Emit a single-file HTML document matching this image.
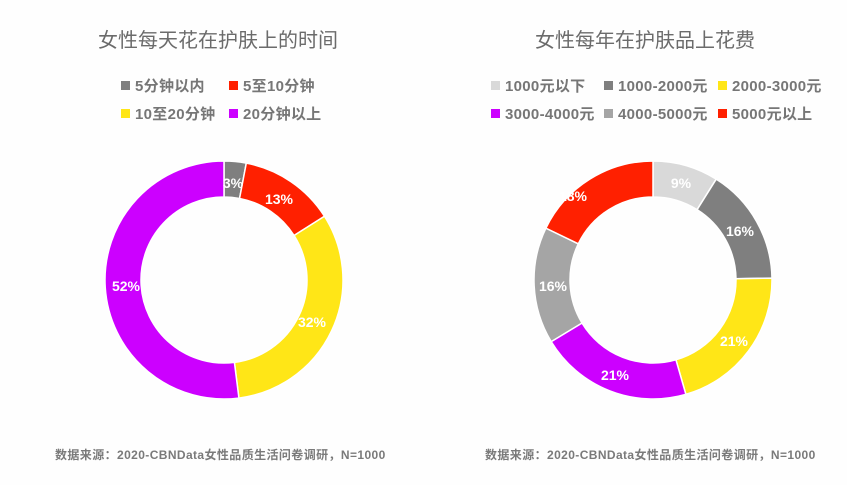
<!DOCTYPE html><html><head><meta charset="utf-8"><style>
body{margin:0;background:#fefefe;}
svg text{font-family:"Liberation Sans","Noto Sans CJK SC",sans-serif;}
.t{font-size:20px;fill:#6b6b6b;}
.lg{font-size:15px;font-weight:bold;fill:#767676;letter-spacing:0.3px;}
.p{font-size:14px;font-weight:bold;fill:#fff;text-anchor:middle;}
.f{font-size:12px;font-weight:bold;fill:#7a7a7a;letter-spacing:0.4px;}
</style></head><body>
<svg width="847" height="480" viewBox="0 0 847 480">
<text class="t" x="98" y="47">女性每天花在护肤上的时间</text>
<text class="t" x="535" y="47">女性每年在护肤品上花费</text>
<g class="lg">
<rect x="121" y="81" width="9" height="9" fill="#7f7f7f"/><text x="135" y="91">5分钟以内</text>
<rect x="229" y="81" width="9" height="9" fill="#ff2000"/><text x="243" y="91">5至10分钟</text>
<rect x="121" y="109" width="9" height="9" fill="#ffe617"/><text x="135" y="119">10至20分钟</text>
<rect x="229" y="109" width="9" height="9" fill="#cc00ff"/><text x="243" y="119">20分钟以上</text>
<rect x="491" y="81" width="9" height="9" fill="#d9d9d9"/><text x="505" y="91">1000元以下</text>
<rect x="604" y="81" width="9" height="9" fill="#7f7f7f"/><text x="618" y="91">1000-2000元</text>
<rect x="718" y="81" width="9" height="9" fill="#ffe617"/><text x="732" y="91">2000-3000元</text>
<rect x="491" y="109" width="9" height="9" fill="#cc00ff"/><text x="505" y="119">3000-4000元</text>
<rect x="604" y="109" width="9" height="9" fill="#a5a5a5"/><text x="618" y="119">4000-5000元</text>
<rect x="718" y="109" width="9" height="9" fill="#ff2000"/><text x="732" y="119">5000元以上</text>
</g>
<g id="L"></g><g id="R"></g>
<text class="p" x="233" y="188">3%</text>
<text class="p" x="279" y="204">13%</text>
<text class="p" x="312" y="327">32%</text>
<text class="p" x="126" y="291">52%</text>
<text class="p" x="681" y="188">9%</text>
<text class="p" x="740" y="236">16%</text>
<text class="p" x="734" y="346">21%</text>
<text class="p" x="615" y="380">21%</text>
<text class="p" x="553" y="291">16%</text>
<text class="p" x="573" y="201">18%</text>
<text class="f" x="55" y="459">数据来源：2020-CBNData女性品质生活问卷调研，N=1000</text>
<text class="f" x="485" y="459">数据来源：2020-CBNData女性品质生活问卷调研，N=1000</text>
</svg>
<script>
function donut(id,cx,cy,vals,cols){
 var g=document.getElementById(id),tot=vals.reduce((a,b)=>a+b,0),a=-Math.PI/2,R=119,r=83,h='';
 vals.forEach(function(v,i){
  var b=a+v/tot*2*Math.PI,l=(b-a)>Math.PI?1:0;
  var p="M"+(cx+R*Math.cos(a))+","+(cy+R*Math.sin(a))+"A"+R+","+R+" 0 "+l+" 1 "+(cx+R*Math.cos(b))+","+(cy+R*Math.sin(b))+"L"+(cx+r*Math.cos(b))+","+(cy+r*Math.sin(b))+"A"+r+","+r+" 0 "+l+" 0 "+(cx+r*Math.cos(a))+","+(cy+r*Math.sin(a))+"Z";
  h+='<path d="'+p+'" fill="'+cols[i]+'" stroke="#fff" stroke-width="1.5"/>';
  a=b;});
 g.innerHTML=h;
}
donut("L",224,280,[3,13,32,52],["#7f7f7f","#ff2000","#ffe617","#cc00ff"]);
donut("R",653,280,[9,16,21,21,16,18],["#d9d9d9","#7f7f7f","#ffe617","#cc00ff","#a5a5a5","#ff2000"]);
</script>
</body></html>
